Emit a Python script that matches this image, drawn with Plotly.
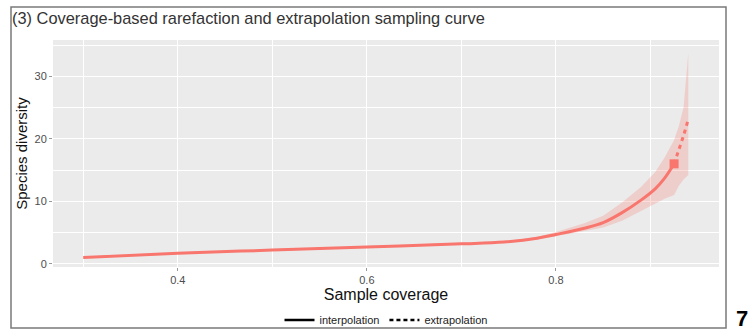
import plotly.graph_objects as go

# Interpolation (rarefaction) segment
cov_interp = [0.30, 0.40, 0.50, 0.60, 0.70, 0.745, 0.78, 0.80, 0.83, 0.85, 0.87, 0.89, 0.905, 0.915, 0.925]
div_interp = [1.0, 1.7, 2.2, 2.7, 3.2, 3.5, 4.1, 4.7, 5.7, 6.6, 8.2, 10.2, 12.0, 13.7, 16.0]
lo_interp = [0.9, 1.6, 2.1, 2.6, 3.1, 3.4, 3.9, 4.4, 5.2, 5.8, 6.9, 8.4, 9.6, 10.4, 11.0]
hi_interp = [1.1, 1.8, 2.3, 2.8, 3.3, 3.6, 4.3, 5.1, 6.5, 7.7, 9.8, 12.3, 14.7, 17.0, 19.8]

# Extrapolation segment
cov_extra = [0.925, 0.930, 0.935, 0.940]
div_extra = [16.0, 18.2, 20.5, 23.1]
lo_extra = [11.0, 12.5, 13.5, 14.2]
hi_extra = [19.8, 22.0, 25.0, 33.7]

# Observed sample
obs_cov = [0.925]
obs_div = [16.0]

x_ticks = [0.4, 0.6, 0.8]
y_ticks = [0, 10, 20, 30]

RED = "#F8766D"
BAND = "rgba(248,118,109,0.25)"

band_x = cov_interp + cov_extra[1:]
band_lo = lo_interp + lo_extra[1:]
band_hi = hi_interp + hi_extra[1:]

fig = go.Figure()
fig.add_trace(go.Scatter(x=band_x + band_x[::-1], y=band_hi + band_lo[::-1],
                         fill="toself", fillcolor=BAND, line=dict(width=0),
                         mode="lines", showlegend=False, hoverinfo="skip"))
fig.add_trace(go.Scatter(x=cov_interp, y=div_interp, mode="lines",
                         line=dict(color=RED, width=3, shape="spline"), showlegend=False))
fig.add_trace(go.Scatter(x=cov_extra, y=div_extra, mode="lines",
                         line=dict(color=RED, width=3, dash="4px,4px"), showlegend=False))
fig.add_trace(go.Scatter(x=obs_cov, y=obs_div, mode="markers",
                         marker=dict(color=RED, size=9, symbol="square"), showlegend=False))
# legend keys
fig.add_trace(go.Scatter(x=[None], y=[None], mode="lines", name="interpolation",
                         line=dict(color="black", width=2.5)))
fig.add_trace(go.Scatter(x=[None], y=[None], mode="lines", name="extrapolation",
                         line=dict(color="black", width=2.5, dash="4px,3px")))

GRID = "white"
fig.update_layout(
    width=755, height=331,
    margin=dict(l=53, r=36, t=40, b=64, autoexpand=False),
    paper_bgcolor="white", plot_bgcolor="#EBEBEB",
    font=dict(family="Liberation Sans, Arial, sans-serif", color="#222"),
    title=dict(text="(3) Coverage-based rarefaction and extrapolation sampling curve",
               x=12 / 755, xanchor="left", y=1 - 18 / 331, yanchor="middle",
               font=dict(size=16.4, color="#333")),
    showlegend=True,
    legend=dict(orientation="h", x=0.5, xanchor="center", yref="container", y=1 - 320 / 331,
                yanchor="middle",
                font=dict(size=11, color="#222"), itemwidth=30, bgcolor="rgba(0,0,0,0)",
                tracegroupgap=0),
    xaxis=dict(range=[0.268, 0.9725], tickvals=x_ticks, ticktext=["0.4", "0.6", "0.8"],
               automargin=False,
               showgrid=True, gridcolor=GRID, gridwidth=1.4, zeroline=False,
               minor=dict(tickvals=[0.3, 0.5, 0.7, 0.9], showgrid=True, gridcolor=GRID, gridwidth=0.6),
               ticks="outside", ticklen=3, tickcolor="#999", tickwidth=1,
               tickfont=dict(size=11, color="#4d4d4d"),
               title=dict(text="Sample coverage", font=dict(size=16, color="#111"), standoff=1)),
    yaxis=dict(range=[-0.5, 35.8], tickvals=y_ticks, automargin=False,
               showgrid=True, gridcolor=GRID, gridwidth=1.4, zeroline=False,
               minor=dict(tickvals=[5, 15, 25, 35], showgrid=True, gridcolor=GRID, gridwidth=0.6),
               ticks="outside", ticklen=3, tickcolor="#999", tickwidth=1,
               tickfont=dict(size=11, color="#4d4d4d"),
               title=dict(text="Species diversity", font=dict(size=15, color="#111"), standoff=3)),
    shapes=[dict(type="rect", xref="paper", yref="paper",
                 x0=(11 - 53) / 666, x1=(726 - 53) / 666,
                 y0=(267 - 328) / 227, y1=(267 - 7) / 227,
                 line=dict(color="#7a7a7a", width=1.5), fillcolor="rgba(0,0,0,0)", layer="below")],
    annotations=[dict(text="<b>7</b>", xref="paper", yref="paper",
                      x=(742 - 53) / 666, y=(267 - 318) / 227, xanchor="center", yanchor="middle",
                      showarrow=False, font=dict(size=22, color="black"))],
)

fig.write_html("out.html", config={"displayModeBar": False},
               post_script="document.body.style.margin='0';document.body.style.padding='0';"
                           "document.body.style.overflow='hidden';")
